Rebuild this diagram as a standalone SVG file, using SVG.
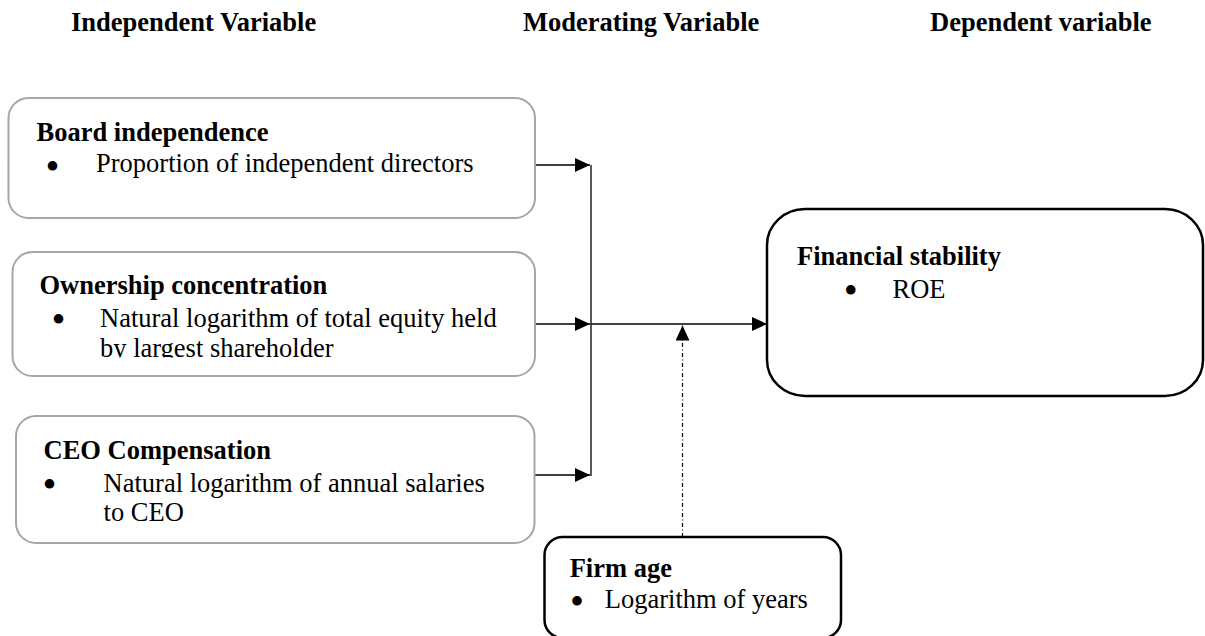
<svg xmlns="http://www.w3.org/2000/svg" width="1205" height="636" viewBox="0 0 1205 636">
  <style>
    text { font-family: "Liberation Serif", "Times New Roman", serif; font-size: 26.5px; fill: #000; }
    .head, .title { font-weight: bold; }
    .bullet { text-anchor: middle; font-size: 40px; }
    .soft { fill: #fff; stroke: #a6a6a6; stroke-width: 2; }
    .firm { fill: #fff; stroke: #000; stroke-width: 2.5; }
    .link { stroke: #000; stroke-width: 1.3; fill: none; }
    .mod { stroke: #000; stroke-width: 1.2; fill: none; stroke-dasharray: 4 2.5 1 2.5; }
  </style>
  <defs>
    <marker id="arrow" viewBox="0 0 15 14" refX="15" refY="7" markerWidth="15" markerHeight="14" markerUnits="userSpaceOnUse" orient="auto">
      <path d="M0,0 L15,7 L0,14 Z" fill="#000"/>
    </marker>
    <clipPath id="ownClip">
      <rect x="0" y="240" width="560" height="117.5"/>
    </clipPath>
  </defs>

  <rect width="1205" height="636" fill="#fff"/>

  <!-- column headings -->
  <g id="headings">
    <text class="head" x="71" y="31">Independent Variable</text>
    <text class="head" x="523" y="31">Moderating Variable</text>
    <text class="head" x="930" y="31">Dependent variable</text>
  </g>

  <!-- connectors -->
  <g id="connectors">
    <line class="link" x1="591" y1="165" x2="591" y2="476"/>
    <line class="link" x1="535" y1="165" x2="590" y2="165" marker-end="url(#arrow)"/>
    <line class="link" x1="535" y1="324" x2="590" y2="324" marker-end="url(#arrow)"/>
    <line class="link" x1="535" y1="475" x2="590" y2="475" marker-end="url(#arrow)"/>
    <line class="link" x1="591" y1="324" x2="767" y2="324" marker-end="url(#arrow)"/>
    <line class="mod" x1="682.5" y1="537" x2="682.5" y2="325.5" marker-end="url(#arrow)"/>
  </g>

  <!-- board independence -->
  <g id="board-independence">
    <rect class="soft" x="8.5" y="98" width="526.5" height="120" rx="20" ry="20"/>
    <text class="title" x="36.5" y="141">Board independence</text>
    <text class="bullet" x="52.6" y="180">•</text>
    <text x="96" y="172">Proportion of independent directors</text>
  </g>

  <!-- ownership concentration -->
  <g id="ownership-concentration">
    <rect class="soft" x="12.5" y="252" width="522.5" height="124" rx="20" ry="20"/>
    <text class="title" x="39.5" y="294">Ownership concentration</text>
    <text class="bullet" x="58.5" y="333">•</text>
    <text x="100" y="327">Natural logarithm of total equity held</text>
    <text x="100" y="357" clip-path="url(#ownClip)">by largest shareholder</text>
  </g>

  <!-- ceo compensation -->
  <g id="ceo-compensation">
    <rect class="soft" x="16" y="416" width="518.5" height="127" rx="20" ry="20"/>
    <text class="title" x="43.5" y="459">CEO Compensation</text>
    <text class="bullet" x="49.4" y="498">•</text>
    <text x="103.6" y="492">Natural logarithm of annual salaries</text>
    <text x="103.6" y="521">to CEO</text>
  </g>

  <!-- financial stability -->
  <g id="financial-stability">
    <rect class="firm" x="767" y="209" width="436" height="187" rx="38" ry="36"/>
    <text class="title" x="797" y="265">Financial stability</text>
    <text class="bullet" x="850.7" y="304">•</text>
    <text x="892.5" y="298">ROE</text>
  </g>

  <!-- firm age -->
  <g id="firm-age">
    <rect class="firm" x="544.5" y="537" width="296.5" height="101" rx="18" ry="18"/>
    <text class="title" x="569.7" y="577">Firm age</text>
    <text class="bullet" x="577" y="615">•</text>
    <text x="604.8" y="608">Logarithm of years</text>
  </g>
</svg>
